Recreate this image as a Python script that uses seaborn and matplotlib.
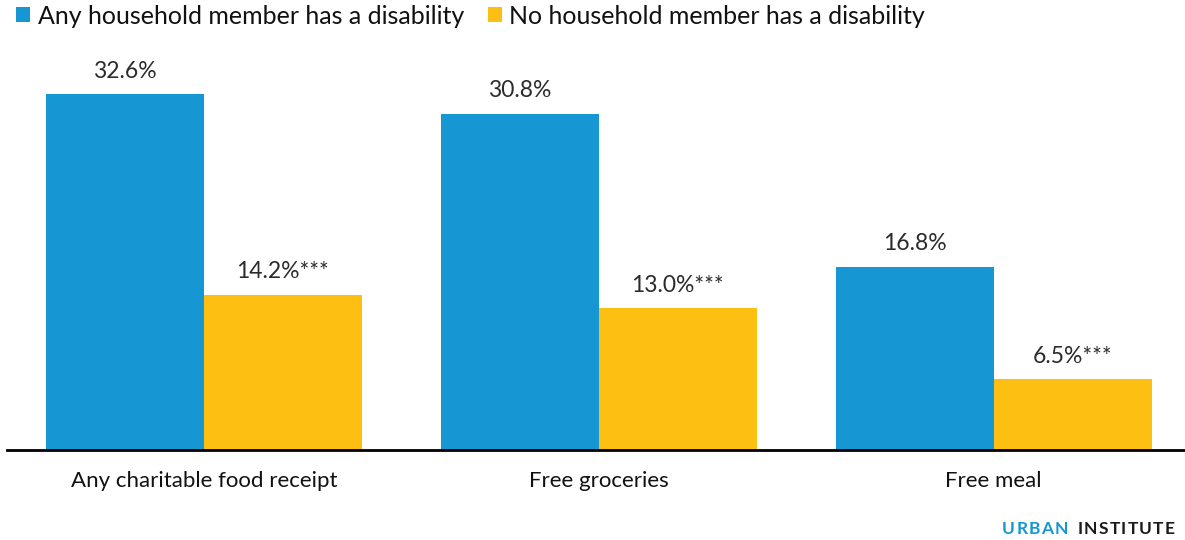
import matplotlib
matplotlib.use("Agg")
import matplotlib.pyplot as plt
import seaborn as sns
import pandas as pd

# Share of households receiving charitable food, by disability status
categories = ["Any charitable food receipt", "Free groceries", "Free meal"]
groups = ["Any household member has a disability", "No household member has a disability"]
with_disability = [32.6, 30.8, 16.8]
without_disability = [14.2, 13.0, 6.5]
significance = ["***", "***", "***"]

palette = {groups[0]: "#1696d2", groups[1]: "#fdbf11"}

df = pd.DataFrame({
    "category": categories * 2,
    "group": [groups[0]] * 3 + [groups[1]] * 3,
    "value": with_disability + without_disability,
})

sns.set_theme(style="white")
plt.rcParams["font.family"] = ["Lato", "DejaVu Sans"]

W, H = 1185, 540
fig = plt.figure(figsize=(W / 100, H / 100), dpi=100)
ax = fig.add_axes([7 / W, 90 / H, (W - 7) / W, 400 / H])

sns.barplot(data=df, x="category", y="value", hue="group", order=categories,
            hue_order=groups, palette=palette, width=0.8, saturation=1,
            linewidth=0, ax=ax)

ax.set_xlim(-0.4987, 2.4848)
ax.set_ylim(0, 400 / 10.92)

# Value labels above each bar
for container, suffixes in zip(ax.containers, [[""] * 3, significance]):
    labels = [f"{v:.1f}%{s}" for v, s in zip(container.datavalues, suffixes)]
    ax.bar_label(container, labels=labels, padding=9, fontsize=16.5, color="#2b2b2b")

ax.set_xlabel("")
ax.set_ylabel("")
ax.set_yticks([])
ax.tick_params(axis="x", length=0, pad=15, labelsize=16, labelcolor="#111111")
for side in ["top", "right", "left"]:
    ax.spines[side].set_visible(False)
ax.spines["bottom"].set_color("#000000")
ax.spines["bottom"].set_linewidth(2)

sns.move_legend(ax, "center left", bbox_to_anchor=(16 / W, 1 - 16 / H),
                bbox_transform=fig.transFigure,
                ncol=2, frameon=False, title=None, fontsize=18,
                handlelength=0.56, handleheight=0.56, handletextpad=0.3,
                columnspacing=0.95, borderaxespad=0, borderpad=0)
for t in ax.get_legend().get_texts():
    t.set_color("#111111")


def spaced_text(x_px, y_px, text, color, size, spacing_px):
    """Draw bold text letter by letter with extra tracking; returns end x in px."""
    renderer = fig.canvas.get_renderer()
    x = x_px
    for ch in text:
        t = fig.text(x / W, 1 - y_px / H, ch, color=color, fontsize=size,
                     fontweight="bold", va="center", ha="left")
        x += t.get_window_extent(renderer).width + spacing_px
    return x


fig.canvas.draw()
end = spaced_text(1002, 529, "URBAN", "#1696d2", 12.5, 1.3)
spaced_text(end + 8, 529, "INSTITUTE", "#1a1a1a", 12.5, 1.3)

fig.savefig("out.png", dpi=100)
